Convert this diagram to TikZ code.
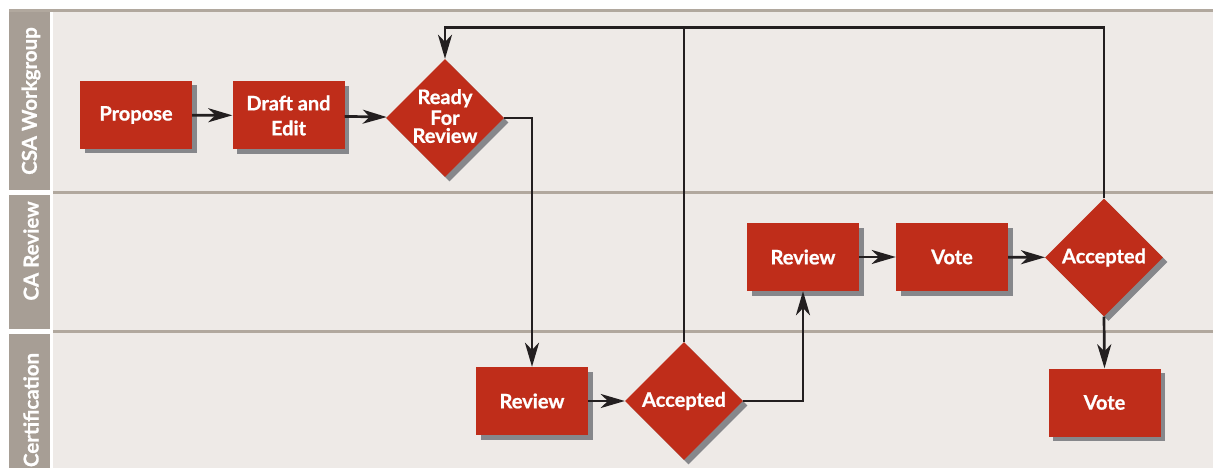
\documentclass[tikz,border=0pt]{standalone}
\usepackage{fontspec}
\setmainfont{Lato}[BoldFeatures={FakeBold=0.8}]
\usetikzlibrary{shapes.geometric,arrows.meta,shadows}
\definecolor{laneBg}{HTML}{EEEAE7}
\definecolor{laneLine}{HTML}{B1A89E}
\definecolor{labelBg}{HTML}{A79E95}
\definecolor{boxRed}{HTML}{BF2D1A}
\definecolor{shadowGray}{HTML}{86878B}
\definecolor{arrowCol}{HTML}{231F20}
\tikzset{
  procbox/.style={rectangle, fill=boxRed, text=white, font=\fontsize{20}{25}\selectfont\bfseries,
    minimum width=112pt, minimum height=68pt, inner sep=0pt, align=center,
    drop shadow={shadow xshift=4.5pt, shadow yshift=-4.5pt, fill=shadowGray, opacity=1}},
  decision/.style={diamond, aspect=1, fill=boxRed, text=white, font=\fontsize{20}{18}\selectfont\bfseries,
    minimum width=118pt, minimum height=118pt, inner sep=-6pt, align=center,
    drop shadow={shadow xshift=4.5pt, shadow yshift=-4.5pt, fill=shadowGray, opacity=1}},
  lanelabel/.style={text=white, rotate=90, font=\fontsize{20.5}{24}\selectfont\bfseries, inner sep=0pt},
  flow/.style={draw=arrowCol, line width=2.7pt, -{Stealth[length=24pt,width=14pt,inset=7pt]}},
  flowplain/.style={draw=arrowCol, line width=2.7pt},
}
\begin{document}
\begin{tikzpicture}[x=1pt,y=-1pt]
\useasboundingbox (0,0) rectangle (1213,468);
% lanes background
\fill[laneBg] (53,12) rectangle (1213,468);
\draw[laneLine, line width=3pt] (9,10.5) -- (1213,10.5);
\draw[laneLine, line width=3pt] (53,192.5) -- (1213,192.5);
\draw[laneLine, line width=3pt] (53,331.5) -- (1213,331.5);
% label column
\fill[labelBg] (9,12) rectangle (50,190);
\fill[labelBg] (9,195) rectangle (50,329);
\fill[labelBg] (9,334) rectangle (50,468);
\node[lanelabel] (l1) at (31,101) {CSA Workgroup};
\node[lanelabel] (l2) at (31,251) {CA Review};
\node[lanelabel] (l3) at (31,410) {Certification};
% nodes
\node[procbox] (propose) at (136,115) {Propose};
\node[procbox] (draft) at (288.5,115.5) {Draft and\\Edit};
\node[decision] (ready) at (445,118) {\raisebox{4pt}{\shortstack{Ready\\For\\Review}}};
\node[procbox] (rev1) at (532,401) {Review};
\node[decision] (acc1) at (684,401) {Accepted};
\node[procbox] (rev2) at (803,257) {Review};
\node[procbox] (vote1) at (952,257) {Vote};
\node[decision] (acc2) at (1104,257.5) {Accepted};
\node[procbox] (vote2) at (1104.5,402.5) {Vote};
\coordinate (topline) at (600,27.5);
% connectors
\draw[flow] (propose) -- (draft);
\draw[flow] (draft) -- (ready);
\draw[flow] (ready.east) -| (rev1.north);
\draw[flow] (rev1) -- (acc1);
\draw[flow] (acc1.east) -| (rev2.south);
\draw[flow] (rev2) -- (vote1);
\draw[flow] (vote1) -- (acc2);
\draw[flow] (acc2.south) -- (vote2.north);
\draw[flow] (acc2.north) |- (topline) -| (ready.north);
\draw[flowplain] (acc1.north) -- (acc1.north |- topline);
\end{tikzpicture}
\end{document}
